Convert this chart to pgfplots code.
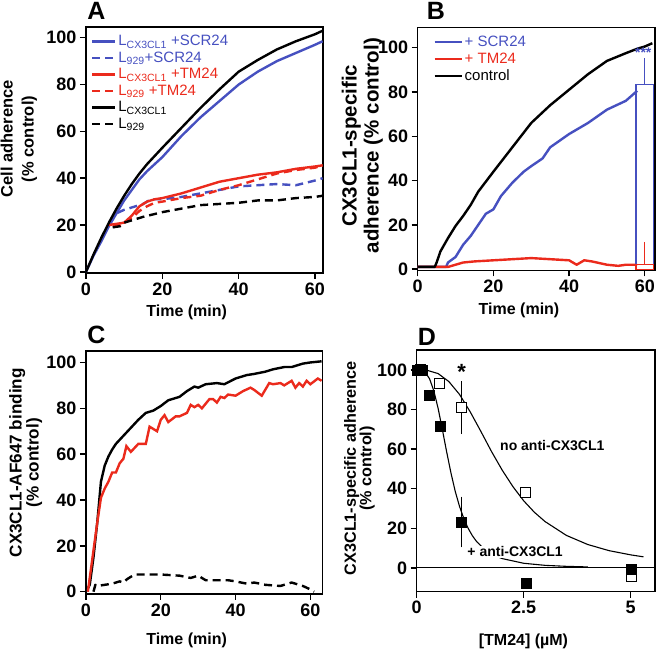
\documentclass[border=0pt]{standalone}
\usepackage{fontspec}
\setmainfont{Liberation Sans}
\usepackage{pgfplots}
\pgfplotsset{compat=1.18}
\definecolor{myblue}{RGB}{70,80,192}
\definecolor{myred}{RGB}{235,42,28}

\pgfplotsset{
  panel/.style={
    scale only axis,
    axis line style={line width=1.4pt},
    every tick/.style={line width=1.4pt, black},
    major tick length=6pt,
    tick align=outside,
    xtick pos=bottom, ytick pos=left,
    /pgf/number format/assume math mode=true,
    tick label style={font=\fontsize{18}{18}\selectfont\bfseries},
    ylabel style={anchor=center, align=center},
    xlabel style={anchor=center, font=\fontsize{16}{16}\selectfont\bfseries},
  },
  curve/.style={line width=2.4pt, line join=round},
  dash/.style={dash pattern=on 8pt off 5pt},
}

\begin{document}
\begin{tikzpicture}
\path[use as bounding box] (0,0) rectangle (656pt,650pt);

% ---------------- A ----------------
\begin{axis}[panel,
  at={(86pt,377pt)}, anchor=south west, width=237pt, height=246pt,
  xmin=0, xmax=62.1, ymin=-0.5, ymax=104.6,
  xtick={0,20,40,60}, ytick={0,20,40,60,80,100},
  xlabel={Time (min)},
  xlabel style={at={(axis description cs:0.425,-0.159)}},
  ylabel={Cell adherence\\(\% control)},
  ylabel style={at={(axis description cs:-0.283,0.545)}, font=\fontsize{16.5}{21}\selectfont\bfseries},
  legend style={at={(axis description cs:0.02,0.975)}, anchor=north west, draw=none, fill=none,
    font=\fontsize{15}{15}\selectfont, row sep=0.6pt, inner sep=0pt},
  legend cell align=left,
  legend image code/.code={\draw[#1] (0pt,0pt) -- (23pt,0pt);},
]
\addplot[curve, myblue] coordinates {(0,0) (2,7) (4,13) (6,19.5) (8,25) (10,30.5) (12,35) (14,39.5) (16,43) (18,46) (20,49) (25,58) (30,66) (35,73) (40,80) (45,85.5) (50,90) (55,93.5) (60,97) (62,98.5)};
\addlegendentry{\textcolor{myblue}{L\textsubscript{CX3CL1} +SCR24}}
\addplot[curve, dash, myblue] coordinates {(6,21) (8,25) (10,26.5) (12,27.5) (15,29) (17,31) (20,31) (25,32) (30,33.5) (35,35) (40,36.5) (45,37) (50,37.5) (55,37) (60,39) (62,40)};
\addlegendentry{\textcolor{myblue}{L\textsubscript{929}+SCR24}}
\addplot[curve, myred] coordinates {(6,20) (8,20.5) (10,21) (12,24) (14,28) (16,30) (18,31) (20,31.5) (25,33.5) (30,36) (35,38.5) (40,40) (45,41.5) (50,42.5) (55,44) (60,45) (62,45.5)};
\addlegendentry{\textcolor{myred}{L\textsubscript{CX3CL1} +TM24}}
\addplot[curve, dash, myred] coordinates {(7,19.5) (9,20) (12,23) (14,26) (16,28) (18,29.5) (20,30) (25,31.5) (30,32.5) (35,35) (40,37) (45,39.5) (50,42) (55,43.5) (60,44.5) (62,45.5)};
\addlegendentry{\textcolor{myred}{L\textsubscript{929} +TM24}}
\addplot[curve, black] coordinates {(0,0) (2,7.5) (4,14.5) (6,21) (8,27) (10,32.5) (12,37.5) (14,42) (16,46) (18,49.5) (20,53) (25,61.5) (30,70) (35,78) (40,85.5) (45,90.5) (50,95) (55,98.5) (60,101.5) (62,103)};
\addlegendentry{L\textsubscript{CX3CL1}}
\addplot[curve, dash, black] coordinates {(7,19) (9,19.5) (10,21) (12,22) (15,23.5) (20,25.5) (25,27) (30,28.5) (35,29) (40,29.5) (45,30.5) (50,30.5) (55,31.5) (60,32) (62,32.5)};
\addlegendentry{L\textsubscript{929}}
\end{axis}

% ---------------- B ----------------
\begin{axis}[panel,
  at={(417.7pt,379.5pt)}, anchor=south west, width=237.3pt, height=242.8pt,
  xmin=0, xmax=62.7, ymin=-0.6, ymax=109,
  xtick={0,20,40,60}, ytick={0,20,40,60,80,100},
  xlabel={Time (min)},
  xlabel style={at={(axis description cs:0.427,-0.163)}},
  ylabel={CX3CL1-specific\\adherence (\% control)},
  ylabel style={at={(axis description cs:-0.233,0.514)}, font=\fontsize{20.5}{22}\selectfont\bfseries},
  legend style={at={(axis description cs:0.065,0.975)}, anchor=north west, draw=none, fill=none,
    font=\fontsize{15}{15}\selectfont, row sep=1pt, inner sep=0pt},
  legend cell align=left,
  legend image code/.code={\draw[#1] (0pt,0pt) -- (27pt,0pt);},
]
\addplot[curve, myblue] coordinates {(0,1) (7.5,1) (8,3) (10,5.5) (12,11) (14,15) (16,20) (18,25) (20,27) (22,33) (25,39) (28,44) (30,46.5) (33,50) (35,55) (40,61) (45,66) (50,72) (55,76) (58,80.5)};
\addlegendentry{\textcolor{myblue}{+ SCR24}}
\addplot[curve, myred] coordinates {(0,1) (8,1) (10,2) (12,3) (15,3.5) (20,4) (25,4.5) (30,5) (35,4.5) (40,4) (42,2) (44,4) (46,3.5) (50,2) (53,1.5) (55,2) (58,2)};
\addlegendentry{\textcolor{myred}{+ TM24}}
\addplot[curve, black] coordinates {(0,1) (4.5,1) (5,3) (6,8) (8,14) (10,19.5) (12,24) (14,29) (16,35) (18,39.5) (20,44) (25,55) (30,66) (35,74) (40,81) (45,88) (50,94) (55,97.5) (58,99.5) (60,100.5) (62,102)};
\addlegendentry{control}
\addplot[forget plot, ybar, bar width=4.6, draw=myblue, fill=none, line width=1.2pt,
  error bars/.cd, y dir=plus, y explicit,
  error bar style={line width=1.2pt, myblue},
  error mark options={line width=1.2pt, mark size=4pt, myblue}]
  coordinates {(60,83.5) +- (0,10)};
\addplot[forget plot, ybar, bar width=4.6, draw=myred, fill=none, line width=1.2pt,
  error bars/.cd, y dir=plus, y explicit,
  error bar style={line width=1.2pt, myred},
  error mark options={line width=1.2pt, mark size=4pt, myred}]
  coordinates {(60,2) +- (0,8.5)};
\node[myblue, font=\fontsize{14}{14}\selectfont\bfseries] at (axis cs:59.6,97.5) {***};
\end{axis}

% ---------------- C ----------------
\begin{axis}[panel,
  at={(86pt,56pt)}, anchor=south west, width=236.7pt, height=243pt,
  xmin=0, xmax=63.3, ymin=-1, ymax=105,
  xtick={0,20,40,60}, ytick={0,20,40,60,80,100},
  xlabel={Time (min)},
  xlabel style={at={(axis description cs:0.425,-0.19)}},
  ylabel={CX3CL1-AF647 binding\\(\% control)},
  ylabel style={at={(axis description cs:-0.255,0.54)}, font=\fontsize{17.1}{16}\selectfont\bfseries},
]
\addplot[curve, black] coordinates {(0,0) (1,3) (2,15) (3,30) (4,48) (5,55) (6,59) (7,62) (8,64.5) (10,68) (12,71.5) (14,75) (16,78) (18,79) (20,81) (22,83.5) (25,85) (27,87.5) (29,89.5) (30,89) (32,90.5) (35,91) (37,90.5) (40,93) (43,94.5) (45,95) (48,96) (50,97) (53,98) (55,98) (58,99.5) (60,100) (63,100.5)};
\addplot[curve, myred, line join=miter] coordinates {(0.5,0) (2,18) (3,30) (4,41) (5,45) (6,48) (7,52) (8,52) (9,56) (10,58) (10.8,63.5) (12,61) (14,64.5) (16,64.5) (17,72) (19,70) (20,75) (21,77) (22,74) (24,76.5) (25,76.5) (27,78) (28,81.5) (29,80.5) (30,81.5) (31,80) (33,84) (34,84) (35,82.5) (36,85) (37,84.5) (38,86) (40,85.5) (42,87.5) (44,89) (45,88) (47,85.5) (49,91) (50,90.5) (52,91) (53,90) (55,92) (56,89) (57,91) (58,89.5) (59,92) (60,90.5) (62,93) (63,92)};
\addplot[curve, dash, black] coordinates {(2,0) (2.5,3) (3,2.5) (5,3) (7,3.5) (9,4.5) (10,4) (11,5.5) (13,7.5) (16,7.5) (20,7.5) (25,7) (28,6) (30,7) (32,5) (35,5) (38,5) (40,4.5) (43,3.5) (45,4) (48,3) (52,2.5) (55,4) (58,2.5) (60,1) (61,0)};
\end{axis}

% ---------------- D ----------------
\begin{axis}[panel,
  at={(416.7pt,58.3pt)}, anchor=south west, width=238.3pt, height=241.7pt,
  xmin=0, xmax=5.57, ymin=-12, ymax=110,
  xtick={0,2.5,5}, xticklabels={0,2.5,5}, ytick={0,20,40,60,80,100},
  xlabel={[TM24] (µM)},
  xlabel style={at={(axis description cs:0.448,-0.207)}},
  ylabel={CX3CL1-specific adherence\\(\% control)},
  ylabel style={at={(axis description cs:-0.24,0.51)}, font=\fontsize{16.2}{15.5}\selectfont\bfseries},
]
\addplot[black, line width=1pt] coordinates {(0,0) (5.57,0)};
\addplot[black, line width=1.1pt] coordinates {(0,100) (0.25,99.7) (0.5,98.1) (0.75,94.1) (1,87.6) (1.25,78.8) (1.5,68.9) (1.75,58.7) (2,49.3) (2.25,41) (2.5,33.9) (2.75,28.1) (3,23.4) (3.5,16.4) (4,11.8) (4.5,8.7) (5,6.6) (5.3,5.6)};
\addplot[black, line width=1.1pt] coordinates {(0,100) (0.1,99.9) (0.2,98.7) (0.3,95.5) (0.4,89.4) (0.5,80.6) (0.6,69.8) (0.7,58.6) (0.8,48) (0.9,38.7) (1,31.1) (1.1,25) (1.2,20.1) (1.3,16.3) (1.4,13.3) (1.6,9.1) (1.8,6.4) (2,4.7) (2.5,2.35) (3,1.3) (3.5,0.8) (4,0.5)};
\addplot[only marks, mark=square*, mark size=5pt, mark options={fill=white, draw=black, line width=1pt},
  error bars/.cd, y dir=both, y explicit,
  error bar style={line width=1.1pt, black},
  error mark options={line width=1.1pt, mark size=4pt, black}]
  coordinates {(0.1,100) (0.54,93) (1.05,80.9) +- (0,11.3) (2.55,38.3) (5.02,-4.5)};
\addplot[only marks, mark=square*, mark size=5pt, mark options={fill=black, draw=black},
  error bars/.cd, y dir=both, y explicit,
  error bar style={line width=1.1pt, black},
  error mark options={line width=1.1pt, mark size=4pt, black}]
  coordinates {(0,100) (0.12,100) (0.29,87) (0.56,71.5) (1.05,23.2) +- (0,10.8) (2.55,-7.9) (5.02,-0.8)};
\node[font=\fontsize{14}{14}\selectfont\bfseries] at (axis cs:3.17,61.9) {no anti-CX3CL1};
\node[fill=white, inner sep=1pt, font=\fontsize{14}{14}\selectfont\bfseries] at (axis cs:2.3,8.1) {+ anti-CX3CL1};
\node[font=\fontsize{22}{22}\selectfont\bfseries] at (axis cs:1.05,99) {*};
\end{axis}

% panel letters
\node[font=\fontsize{25}{25}\selectfont\bfseries] at (96.5pt,639pt) {A};
\node[font=\fontsize{25}{25}\selectfont\bfseries] at (436pt,639pt) {B};
\node[font=\fontsize{25}{25}\selectfont\bfseries] at (96.5pt,315pt) {C};
\node[font=\fontsize{25}{25}\selectfont\bfseries] at (427pt,313pt) {D};
\end{tikzpicture}
\end{document}
